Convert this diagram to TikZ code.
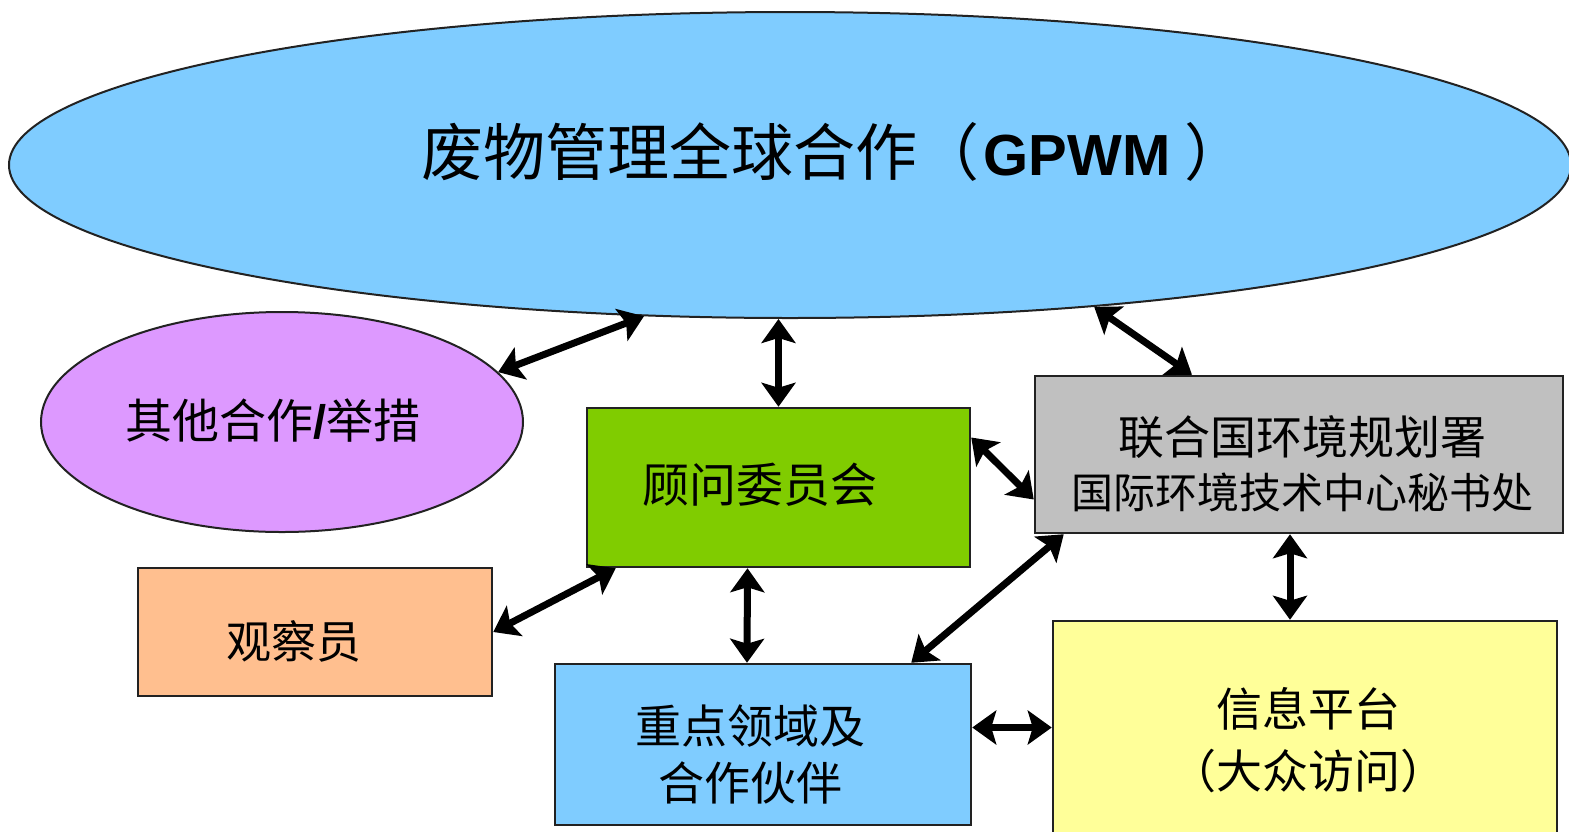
\documentclass[tikz,border=0pt]{standalone}
\usepackage{fontspec}
\setmainfont{Liberation Sans}
\newfontfamily\cjk{Noto Sans CJK SC}
\usetikzlibrary{shapes.geometric,arrows.meta,calc}
\definecolor{skyb}{HTML}{7FCCFF}
\definecolor{grn}{HTML}{80CC00}
\definecolor{gry}{HTML}{C0C0C0}
\definecolor{purp}{HTML}{DD99FF}
\definecolor{orng}{HTML}{FFBF8F}
\definecolor{yel}{HTML}{FFFF99}
\definecolor{edge}{HTML}{222222}
\begin{document}
\begin{tikzpicture}[x=1pt,y=-1pt,
  box/.style={draw=edge, line width=2.5pt, rectangle, inner sep=0pt},
  oval/.style={draw=edge, line width=2pt, ellipse, inner sep=0pt},
  lbl/.style={inner sep=0pt, align=center, text=black},
  tip/.tip={Stealth[length=24pt,width=34pt,inset=5pt]},
  link/.style={line width=7pt, tip-tip}]
\useasboundingbox (0,0) rectangle (1569,831);
\clip (0,0) rectangle (1569,831);
\fill[white] (0,0) rectangle (1569,831);

% shapes
\node[oval, fill=skyb, minimum width=1562pt, minimum height=306pt] (big) at (790,165) {};
\node[oval, fill=purp, minimum width=482pt, minimum height=220pt] (oth) at (282,422) {};
\node[box, fill=grn, minimum width=383pt, minimum height=159pt] (green) at (778.5,487.5) {};
\node[box, fill=gry, minimum width=528pt, minimum height=157pt] (gray) at (1299,454.5) {};
\node[box, fill=orng, minimum width=354pt, minimum height=128pt] (obs) at (315,632) {};
\node[box, fill=skyb, minimum width=416pt, minimum height=161pt] (blue) at (763,744.5) {};
\node[box, fill=yel, minimum width=504pt, minimum height=239pt] (yel) at (1305,740.5) {};

% texts
\node[lbl, font=\fontsize{62}{70}\selectfont\cjk] (bigt) at (834,152)
  {废物管理全球合作（\hspace{4pt}{\rmfamily\bfseries\fontsize{58}{60}\selectfont GPWM}\hspace{14pt}）};
\node[lbl, font=\fontsize{47}{50}\selectfont\cjk] (otht) at (273,421)
  {其他合作{\rmfamily\bfseries /}举措};
\node[lbl, font=\fontsize{47}{50}\selectfont\cjk] (greent) at (760,485) {顾问委员会};
\node[lbl, font=\fontsize{46}{54}\selectfont\cjk] (grayt) at (1302,464)
  {联合国环境规划署\\{\fontsize{42}{54}\selectfont 国际环境技术中心秘书处}};
\node[lbl, font=\fontsize{45}{50}\selectfont\cjk] (obst) at (294,641) {观察员};
\node[lbl, font=\fontsize{46}{57}\selectfont\cjk] (bluet) at (750,754.5) {重点领域及\\合作伙伴};
\node[lbl, font=\fontsize{46}{62}\selectfont\cjk] (yelt) at (1308,740) {信息平台\\（大众访问）};

% connectors
\draw[link] (oth.13) -- (big.226);
\draw[link] (big.south -| green.north) -- (green.north);
\draw[link] (big.-25) -- ($(gray.north)+(-107,0)$);
\draw[link] ($(green.east)+(0,-50)$) -- ($(gray.west)+(0,45)$);
\draw[link] (obs.east) -- ($(green.south west)+(30,0)$);
\draw[link] ($(green.south)+(-31,0)$) -- ($(blue.north)+(-16,0)$);
\draw[link] ($(gray.south west)+(30,0)$) -- ($(blue.north east)+(-61,0)$);
\draw[link] ($(gray.south)+(-9,0)$) -- ($(yel.north)+(-15,0)$);
\draw[link] ($(blue.east)+(0,-17)$) -- ($(yel.west)+(0,-13)$);
\end{tikzpicture}
\end{document}
